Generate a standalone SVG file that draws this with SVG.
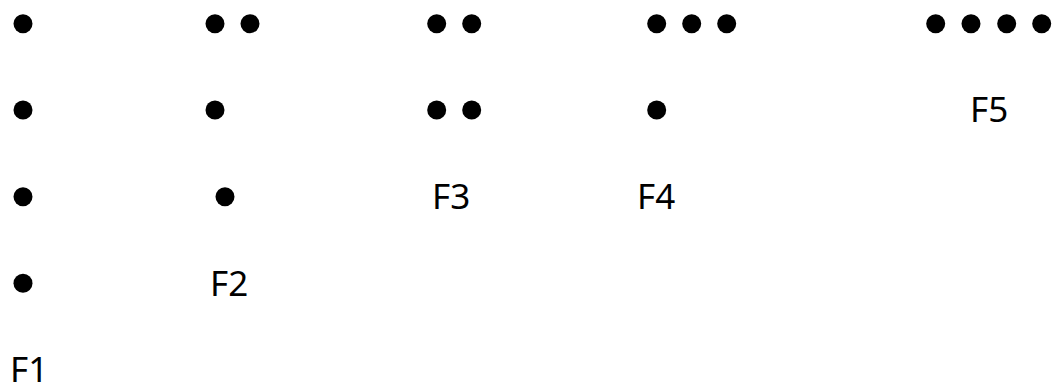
<svg xmlns="http://www.w3.org/2000/svg" width="1052" height="385" viewBox="0 0 1052 385">
<style>
.d{fill:#000}
.t{font-family:"Noto Sans","Liberation Sans",sans-serif;font-size:35px;fill:#000}
</style>
<rect width="1052" height="385" fill="#fff"/>
<g id="f1">
<circle class="d" cx="23" cy="23.7" r="9.5"/>
<circle class="d" cx="23" cy="110" r="9.5"/>
<circle class="d" cx="23" cy="196.7" r="9.5"/>
<circle class="d" cx="23" cy="283.3" r="9.5"/>
<text class="t" x="10" y="381.5">F1</text>
</g>
<g id="f2">
<circle class="d" cx="215" cy="23.7" r="9.5"/>
<circle class="d" cx="250" cy="23.7" r="9.5"/>
<circle class="d" cx="215" cy="110" r="9.5"/>
<circle class="d" cx="225" cy="196.7" r="9.5"/>
<text class="t" x="210" y="295.5">F2</text>
</g>
<g id="f3">
<circle class="d" cx="436.7" cy="23.7" r="9.5"/>
<circle class="d" cx="471.7" cy="23.7" r="9.5"/>
<circle class="d" cx="436.7" cy="110" r="9.5"/>
<circle class="d" cx="471.7" cy="110" r="9.5"/>
<text class="t" x="432" y="209.3">F3</text>
</g>
<g id="f4">
<circle class="d" cx="656.7" cy="23.7" r="9.5"/>
<circle class="d" cx="691.7" cy="23.7" r="9.5"/>
<circle class="d" cx="726.7" cy="23.7" r="9.5"/>
<circle class="d" cx="656.7" cy="110" r="9.5"/>
<text class="t" x="637" y="209.3">F4</text>
</g>
<g id="f5">
<circle class="d" cx="935.7" cy="23.7" r="9.5"/>
<circle class="d" cx="971" cy="23.7" r="9.5"/>
<circle class="d" cx="1006.7" cy="23.7" r="9.5"/>
<circle class="d" cx="1041.7" cy="23.7" r="9.5"/>
<text class="t" x="970" y="121.7">F5</text>
</g>
<g id="connectors"/>
</svg>
